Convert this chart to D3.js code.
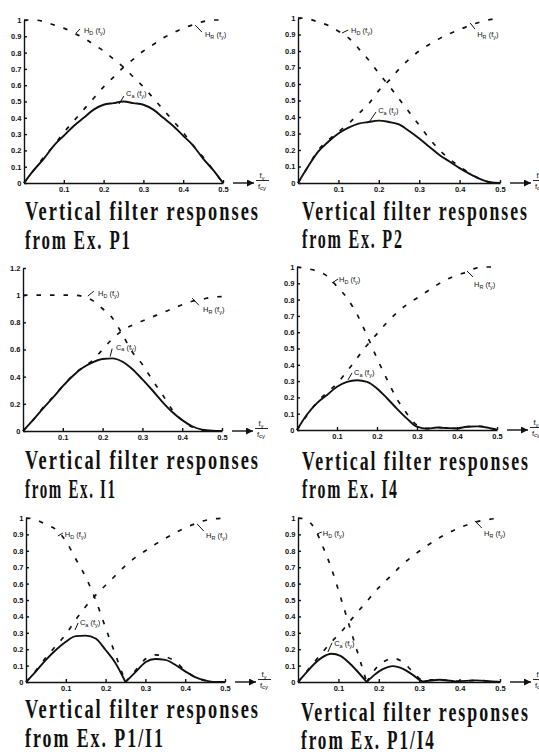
<!DOCTYPE html>
<html><head><meta charset="utf-8">
<script src="https://cdn.jsdelivr.net/npm/d3@7"></script>
<style>
html,body{margin:0;padding:0;background:#fff;}
svg{display:block;}
.ax path,.ax line{stroke:#111;stroke-width:1.4;fill:none;}
.ax text{font-family:"Liberation Sans",Arial,sans-serif;font-size:7.5px;font-weight:bold;fill:#111;}
.ann{font-family:"Liberation Sans",Arial,sans-serif;font-size:7.5px;fill:#111;}
.ttl{font-family:"Liberation Serif","Times New Roman",serif;font-weight:bold;font-size:27px;letter-spacing:3px;fill:#111;}
</style></head><body>
<svg id="c" width="539" height="754"></svg>
<script>
// ---- data ----
const freq = [0,0.025,0.05,0.075,0.1,0.125,0.15,0.175,0.2,0.225,0.25,0.275,0.3,0.325,0.35,0.375,0.4,0.425,0.45,0.475,0.5];
const freqB = [0,0.02,0.04,0.06,0.083,0.105,0.125,0.145,0.17,0.19,0.21,0.235,0.26,0.285,0.31,0.35,0.39,0.44,0.5];
const xTicks = [0.1,0.2,0.3,0.4,0.5];
const yTicks = [0,0.1,0.2,0.3,0.4,0.5,0.6,0.7,0.8,0.9,1];
const yTicksI1 = [0,0.2,0.4,0.6,0.8,1,1.2];
const titleLine1 = "Vertical filter responses";
const titleLine2 = ["from Ex. P1","from Ex. P2","from Ex. I1","from Ex. I4","from Ex. P1/I1","from Ex. P1/I4"];

// Ex. P1
const Hd_P1 = [1,1,0.99,0.97,0.95,0.92,0.89,0.85,0.81,0.76,0.71,0.65,0.59,0.52,0.45,0.38,0.31,0.23,0.16,0.08,0];
const Hr_P1 = [0,0.08,0.16,0.23,0.31,0.38,0.45,0.52,0.59,0.65,0.71,0.76,0.81,0.85,0.89,0.92,0.95,0.97,0.99,1,1];
const Ca_P1 = [0,0.08,0.15,0.23,0.29,0.35,0.4,0.45,0.48,0.49,0.5,0.49,0.48,0.45,0.4,0.35,0.29,0.23,0.15,0.08,0];
// Ex. P2
const Hd_P2 = [1,0.995,0.975,0.955,0.92,0.88,0.815,0.745,0.665,0.59,0.51,0.43,0.35,0.27,0.2,0.145,0.1,0.06,0.025,0.005,0];
const Hr_P2 = [0,0.1,0.2,0.26,0.31,0.36,0.42,0.48,0.56,0.62,0.69,0.75,0.8,0.84,0.875,0.905,0.93,0.955,0.975,0.99,1];
const Ca_P2 = [0,0.1,0.19,0.25,0.3,0.335,0.36,0.37,0.378,0.37,0.355,0.315,0.27,0.22,0.17,0.13,0.09,0.055,0.025,0.005,0];
// Ex. I1
const Hd_I1 = [1,1,1,1,1,1,0.99,0.96,0.9,0.83,0.71,0.58,0.49,0.375,0.27,0.155,0.078,0.03,0.006,0,0];
const Hr_I1 = [0,0.08,0.17,0.25,0.33,0.41,0.47,0.52,0.6,0.68,0.74,0.78,0.81,0.84,0.87,0.9,0.93,0.955,0.97,0.985,0.99];
const Ca_I1 = [0,0.08,0.165,0.245,0.33,0.405,0.465,0.505,0.53,0.535,0.51,0.455,0.38,0.3,0.215,0.14,0.08,0.035,0.01,0.002,0];
// Ex. I4
const Hd_I4 = [1,0.99,0.975,0.945,0.88,0.81,0.71,0.58,0.44,0.31,0.19,0.1,0.03,0.01,0.016,0.012,0.01,0.02,0.024,0.016,0];
const Hr_I4 = [0,0.09,0.17,0.23,0.285,0.36,0.44,0.52,0.59,0.66,0.72,0.77,0.81,0.85,0.89,0.925,0.95,0.97,0.995,1,1];
const Ca_I4 = [0,0.095,0.165,0.215,0.265,0.295,0.305,0.295,0.255,0.195,0.13,0.07,0.02,0.008,0.015,0.012,0.01,0.02,0.022,0.015,0];
// Ex. P1/I1
const Hd_P1I1 = [1,0.99,0.96,0.93,0.86,0.75,0.64,0.5,0.33,0.165,0,0.07,0.14,0.165,0.155,0.125,0.07,0.03,0.008,0,0];
const Hr_P1I1 = [0,0.07,0.15,0.22,0.29,0.38,0.46,0.53,0.59,0.65,0.71,0.76,0.8,0.84,0.875,0.91,0.94,0.965,0.985,0.995,1];
const Ca_P1I1 = [0,0.065,0.135,0.195,0.245,0.28,0.283,0.265,0.195,0.115,0,0.06,0.12,0.14,0.135,0.105,0.065,0.03,0.01,0,0];
// Ex. P1/I4 (on freqB)
const Hd_P1I4 = [1,0.99,0.94,0.835,0.69,0.52,0.36,0.2,0,0.075,0.12,0.145,0.12,0.06,0.01,0.015,0.004,0.01,0];
const Hr_P1I4 = [0,0.06,0.12,0.18,0.245,0.3,0.36,0.42,0.49,0.55,0.6,0.66,0.72,0.77,0.815,0.88,0.93,0.975,1];
const Ca_P1I4 = [0,0.055,0.11,0.15,0.172,0.16,0.12,0.07,0,0.045,0.078,0.097,0.08,0.042,0.004,0.014,0.004,0.01,0];

// ---- layout ----
const panels = [
 {x0:24,x1:223,y0:183,y1:20,ymax:1,yt:yTicks,f:freq,hd:Hd_P1,hr:Hr_P1,ca:Ca_P1,tx:25,tb1:220,tb2:249,tw1:233,tw2:105,
  ann:{hd:[0.131,0.92,0.141,0.945,0.148,0.92],hr:[0.43,0.969,0.447,0.926,0.452,0.896],ca:[0.239,0.485,0.251,0.534,0.254,0.534]}},
 {x0:298,x1:500,y0:183,y1:18,ymax:1,yt:yTicks,f:freq,hd:Hd_P2,hr:Hr_P2,ca:Ca_P2,tx:302,tb1:220,tb2:248,tw1:225,tw2:100,
  ann:{hd:[0.109,0.909,0.124,0.927,0.129,0.909],hr:[0.426,0.97,0.438,0.933,0.441,0.885],ca:[0.178,0.376,0.193,0.43,0.196,0.424]}},
 {x0:23,x1:222,y0:431,y1:268,ymax:1.2,yt:yTicksI1,f:freq,hd:Hd_I1,hr:Hr_I1,ca:Ca_I1,tx:25,tb1:469,tb2:498,tw1:233,tw2:90,
  ann:{hd:[0.163,0.993,0.178,1.03,0.186,0.993],hr:[0.425,0.978,0.442,0.926,0.45,0.874],ca:[0.219,0.548,0.224,0.607,0.231,0.6]}},
 {x0:297,x1:497,y0:430,y1:267,ymax:1,yt:yTicks,f:freq,hd:Hd_I4,hr:Hr_I4,ca:Ca_I4,tx:302,tb1:470,tb2:498,tw1:226,tw2:95,
  ann:{hd:[0.0875,0.902,0.1025,0.926,0.1025,0.908],hr:[0.425,0.975,0.44,0.939,0.44,0.877],ca:[0.1275,0.307,0.1375,0.35,0.14,0.337]}},
 {x0:26,x1:225,y0:682,y1:518,ymax:1,yt:yTicks,f:freq,hd:Hd_P1I1,hr:Hr_P1I1,ca:Ca_P1I1,tx:25,tb1:718,tb2:747,tw1:233,tw2:138,
  ann:{hd:[0.08,0.89,0.093,0.909,0.095,0.884],hr:[0.43,0.963,0.447,0.92,0.45,0.878],ca:[0.123,0.317,0.131,0.36,0.133,0.348]}},
 {x0:298,x1:500,y0:682,y1:518,ymax:1,yt:yTicks,f:freqB,hd:Hd_P1I4,hr:Hr_P1I4,ca:Ca_P1I4,tx:301,tb1:721,tb2:749,tw1:227,tw2:133,
  ann:{hd:[0.047,0.902,0.059,0.915,0.059,0.89],hr:[0.438,0.982,0.455,0.939,0.458,0.89],ca:[0.074,0.183,0.084,0.238,0.087,0.22]}}
];

const svg = d3.select("#c");
const defs = svg.append("defs");
defs.append("marker").attr("id","arr").attr("viewBox","0 0 10 10").attr("refX",10).attr("refY",5)
  .attr("markerWidth",8).attr("markerHeight",7).attr("markerUnits","userSpaceOnUse").attr("orient","auto")
  .append("path").attr("d","M0,0L10,5L0,10Z").attr("fill","#111");

function segments(f, v){
  const segs=[]; let cur=[];
  for(let i=0;i<f.length;i++){
    cur.push([f[i],v[i]]);
    if(i>0 && i<f.length-1 && v[i]===0 && v[i-1]>0 && v[i+1]>0){ segs.push(cur); cur=[[f[i],v[i]]]; }
  }
  segs.push(cur); return segs;
}

function addLabel(g, x, y, main, sub){
  const t=g.append("text").attr("class","ann").attr("x",x).attr("y",y);
  t.append("tspan").text(main);
  t.append("tspan").attr("dy",1.8).attr("font-size",5.5).text(sub);
  t.append("tspan").attr("dy",-1.8).text(" (f");
  t.append("tspan").attr("dy",1.8).attr("font-size",5.5).text("y");
  t.append("tspan").attr("dy",-1.8).text(")");
}

function title(g, tx, ty, w, str){
  const t=g.append("text").attr("class","ttl").attr("x",0).attr("y",0).text(str);
  const L=t.node().getComputedTextLength()-3; // drop trailing letter-spacing
  const s=w/L;
  t.attr("transform",`translate(${tx},${ty}) scale(${s},1)`);
}

panels.forEach((p,i)=>{
  const x=d3.scaleLinear().domain([0,0.5]).range([p.x0,p.x1]);
  const y=d3.scaleLinear().domain([0,p.ymax]).range([p.y0,p.y1]);
  const g=svg.append("g");

  g.append("g").attr("class","ax").attr("transform",`translate(0,${p.y0})`)
    .call(d3.axisBottom(x).tickValues(xTicks).tickSize(-3).tickSizeOuter(0).tickPadding(4).tickFormat(d=>String(d)));
  g.append("g").attr("class","ax").attr("transform",`translate(${p.x0},0)`)
    .call(d3.axisLeft(y).tickValues(p.yt).tickSize(-3).tickSizeOuter(0).tickPadding(2.5).tickFormat(d=>String(d)));

  g.append("line").attr("x1",p.x1+10).attr("x2",p.x1+31).attr("y1",p.y0).attr("y2",p.y0)
    .attr("stroke","#111").attr("stroke-width",1.4).attr("marker-end","url(#arr)");
  const fx=p.x1+39;
  const t1=g.append("text").attr("class","ann").attr("x",fx).attr("y",p.y0-5).attr("text-anchor","middle");
  t1.append("tspan").text("f"); t1.append("tspan").attr("dy",1.5).attr("font-size",6).text("y");
  g.append("line").attr("x1",fx-6).attr("x2",fx+7).attr("y1",p.y0-2.5).attr("y2",p.y0-2.5).attr("stroke","#111").attr("stroke-width",0.9);
  const t2=g.append("text").attr("class","ann").attr("x",fx).attr("y",p.y0+5.5).attr("text-anchor","middle");
  t2.append("tspan").text("f"); t2.append("tspan").attr("dy",1.5).attr("font-size",6).text("cy");

  const line=d3.line().x(d=>x(d[0])).y(d=>y(d[1])).curve(d3.curveMonotoneX);
  segments(p.f,p.ca).forEach(s=>g.append("path").attr("d",line(s)).attr("fill","none")
    .attr("stroke","#111").attr("stroke-width",1.9).attr("stroke-linejoin","round"));
  [p.hd,p.hr].forEach(v=>segments(p.f,v).forEach(s=>g.append("path").attr("d",line(s)).attr("fill","none")
    .attr("stroke","#111").attr("stroke-width",1.7).attr("stroke-dasharray","4.5 9")));

  const A=p.ann;
  [["hd","H","D"],["hr","H","R"],["ca","C","a"]].forEach(([k,m,s])=>{
    const a=A[k];
    g.append("line").attr("x1",x(a[0])).attr("y1",y(a[1])).attr("x2",x(a[2])).attr("y2",y(a[3]))
      .attr("stroke","#111").attr("stroke-width",1);
    addLabel(g,x(a[4])+1,y(a[5]),m,s);
  });

  title(g,p.tx,p.tb1,p.tw1,titleLine1);
  title(g,p.tx,p.tb2,p.tw2,titleLine2[i]);
});
</script>
</body></html>
